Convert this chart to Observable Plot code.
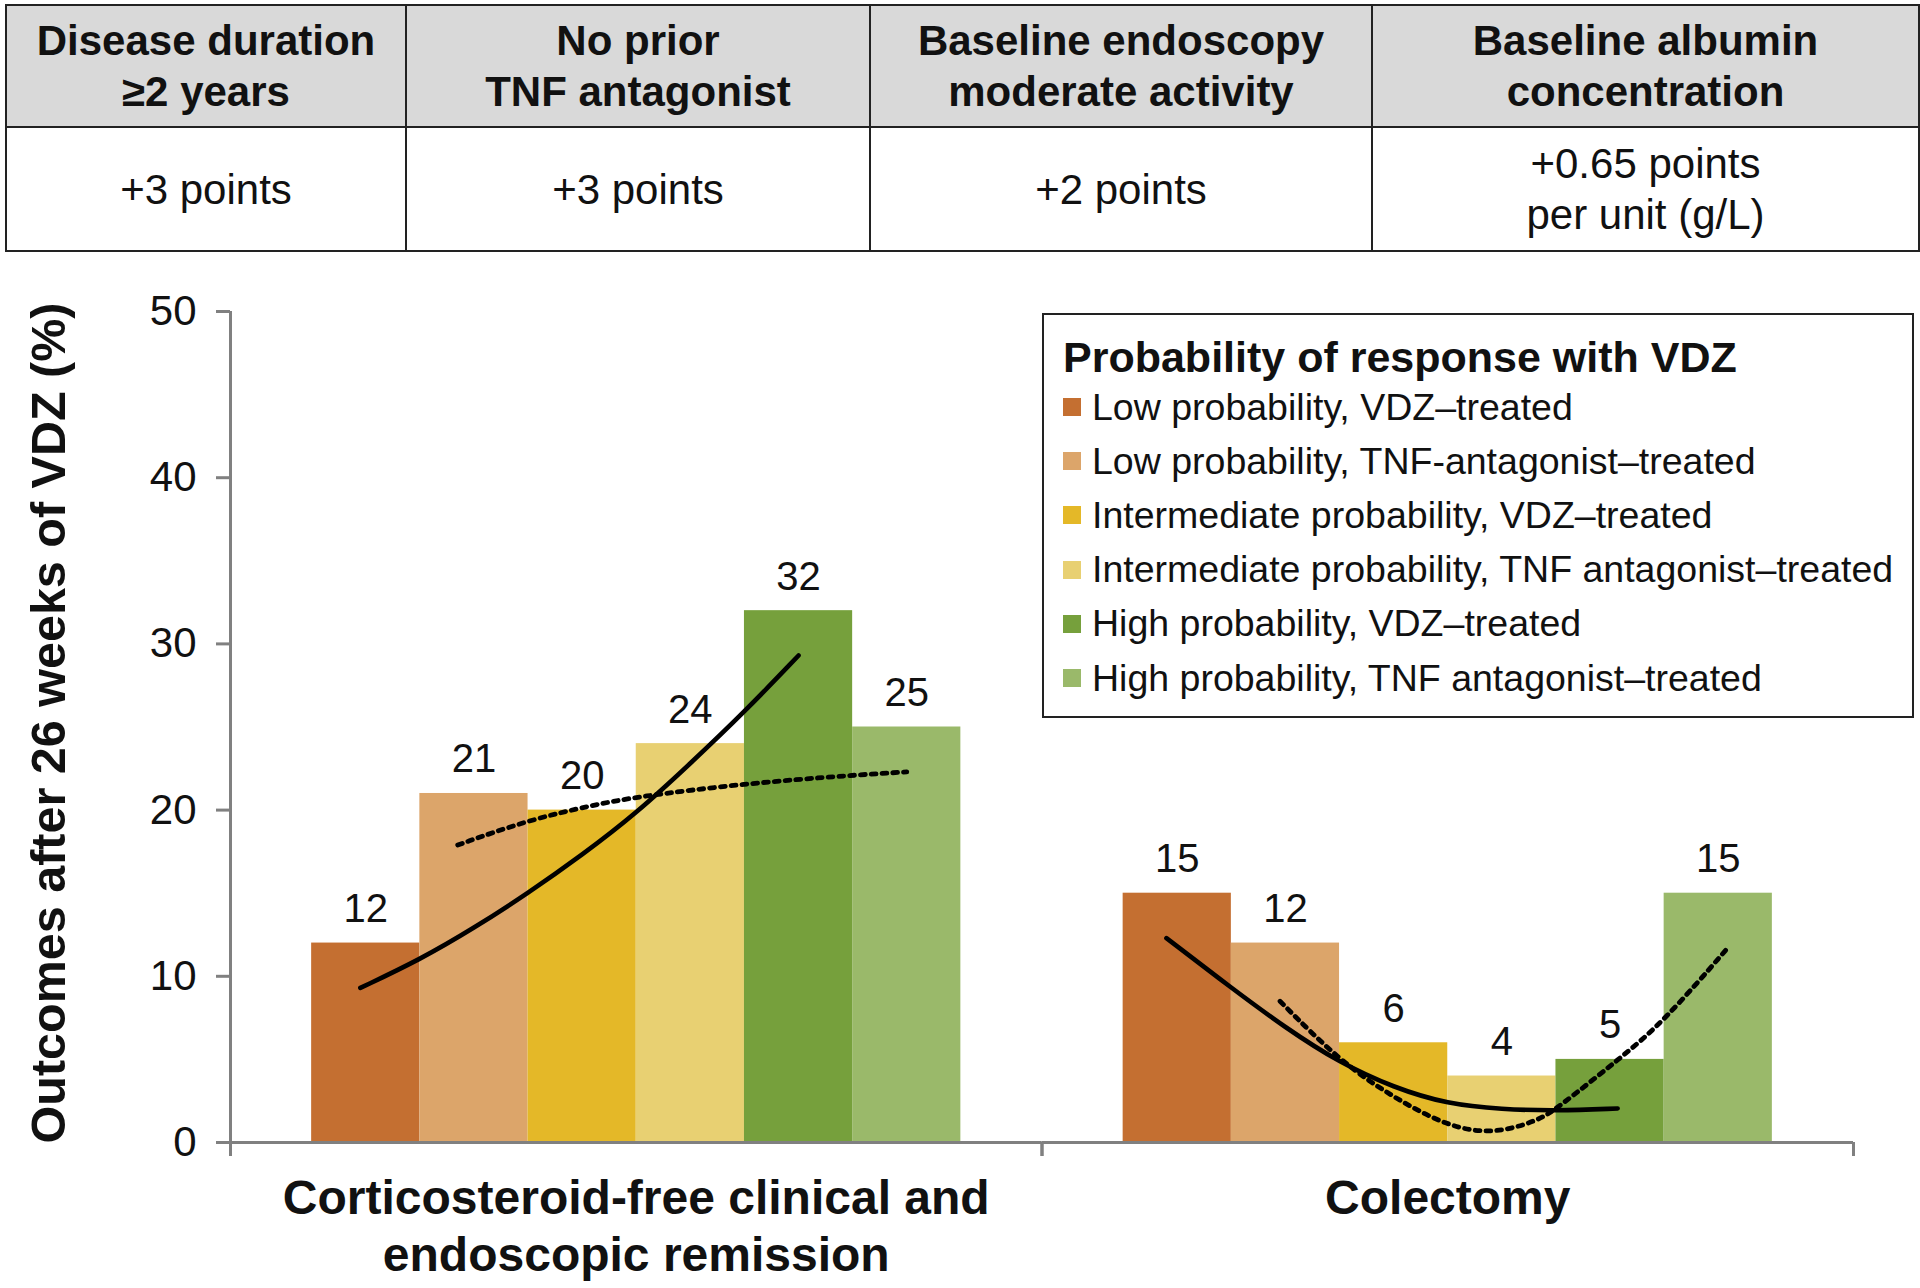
<!DOCTYPE html>
<html>
<head>
<meta charset="utf-8">
<script src="https://cdn.jsdelivr.net/npm/d3@7"></script>
<script src="https://cdn.jsdelivr.net/npm/@observablehq/plot@0.6"></script>
<style>
  html, body { margin: 0; padding: 0; background: #fff; }
  body { font-family: "Liberation Sans", Arial, Helvetica, sans-serif; color: #111; }
  #root { position: relative; width: 1920px; height: 1288px; overflow: hidden; background: #fff; }
  #points { position: absolute; left: 5px; top: 4px; border-collapse: collapse; table-layout: fixed; }
  #points th, #points td { border: 2px solid #222; text-align: center; vertical-align: middle; font-size: 42px; line-height: 51px; padding: 0; white-space: pre-line; color: #111; }
  #points th { background: #d9d9d9; font-weight: bold; height: 120px; }
  #points td { font-weight: normal; height: 122px; }
  #chart { position: absolute; left: 0; top: 255px; }
  #legend { position: absolute; left: 1042px; top: 313px; width: 868px; height: 401px; border: 2px solid #222; background: #fff; box-sizing: content-box; }
  #legend .title { position: absolute; left: 19px; top: 17px; height: 50px; line-height: 50px; font-size: 43px; font-weight: bold; white-space: nowrap; }
  #legend .item { position: absolute; left: 19px; height: 54px; display: flex; align-items: center; font-size: 37.5px; white-space: nowrap; }
  #legend .sw { width: 18px; height: 18px; margin-right: 11px; flex: none; }
</style>
</head>
<body>
<div id="root">
  <table id="points"><thead><tr id="hrow"></tr></thead><tbody><tr id="brow"></tr></tbody></table>
  <div id="chart"></div>
  <div id="legend"></div>
</div>
<script>
// ---------- data ----------
const tableHeaders = ["Disease duration\n≥2 years", "No prior\nTNF antagonist", "Baseline endoscopy\nmoderate activity", "Baseline albumin\nconcentration"];
const tableValues = ["+3 points", "+3 points", "+2 points", "+0.65 points\nper unit (g/L)"];

const groups = ["Corticosteroid-free clinical and\nendoscopic remission", "Colectomy"];
const series = [
  "Low probability, VDZ–treated",
  "Low probability, TNF-antagonist–treated",
  "Intermediate probability, VDZ–treated",
  "Intermediate probability, TNF antagonist–treated",
  "High probability, VDZ–treated",
  "High probability, TNF antagonist–treated"
];
const seriesColors = ["#C46F31", "#DCA56A", "#E4B828", "#E8D072", "#76A03C", "#9AB96A"];
const remissionValues = [12, 21, 20, 24, 32, 25];
const colectomyValues = [15, 12, 6, 4, 5, 15];
const yTicks = [0, 10, 20, 30, 40, 50];
const yTitle = "Outcomes after 26 weeks of VDZ (%)";
const legendTitle = "Probability of response with VDZ";

// Trend curves: position in bar widths from the group's first bar edge, value in %
const remissionVdzTrendPos = [0.45, 1.0, 1.5, 2.0, 2.5, 3.0, 3.5, 4.0, 4.5];
const remissionVdzTrendVal = [9.3, 11.0, 12.9, 15.0, 17.3, 19.8, 22.8, 25.9, 29.3];
const remissionTnfTrendPos = [1.35, 2.0, 2.6, 3.0, 4.0, 5.0, 5.5];
const remissionTnfTrendVal = [17.9, 19.4, 20.3, 20.8, 21.6, 22.1, 22.3];
const colectomyVdzTrendPos = [0.4, 1.0, 1.5, 2.0, 2.5, 3.0, 3.5, 4.0, 4.57];
const colectomyVdzTrendVal = [12.3, 9.3, 6.9, 4.8, 3.3, 2.3, 2.0, 1.9, 2.05];
const colectomyTnfTrendPos = [1.45, 2.0, 2.5, 3.0, 3.42, 3.83, 4.0, 4.6, 5.0, 5.6];
const colectomyTnfTrendVal = [8.5, 4.9, 2.7, 0.95, 0.5, 1.3, 2.0, 5.1, 7.3, 11.8];

// ---------- table ----------
const colWidths = [398, 462, 500, 545];
const hrow = document.getElementById("hrow");
const brow = document.getElementById("brow");
tableHeaders.forEach((h, i) => {
  const th = document.createElement("th");
  th.textContent = h;
  th.style.width = colWidths[i] + "px";
  hrow.appendChild(th);
});
tableValues.forEach(v => {
  const td = document.createElement("td");
  td.textContent = v;
  brow.appendChild(td);
});

// ---------- chart ----------
const groupValues = [remissionValues, colectomyValues];
const bars = groups.flatMap((g, gi) => series.map((s, si) => ({group: g, series: s, slot: si, value: groupValues[gi][si]})));
const trend = (group, pos, val) => pos.map((p, i) => ({group, pos: p, value: val[i]}));
const solidTrend = [
  ...trend(groups[0], remissionVdzTrendPos, remissionVdzTrendVal),
  ...trend(groups[1], colectomyVdzTrendPos, colectomyVdzTrendVal)
];
const dottedTrend = [
  ...trend(groups[0], remissionTnfTrendPos, remissionTnfTrendVal),
  ...trend(groups[1], colectomyTnfTrendPos, colectomyTnfTrendVal)
];

const groupPad = 0.75;
const xDomain = [-groupPad, series.length + groupPad];
const yDomain = [yTicks[0], yTicks[yTicks.length - 1]];
const axisGray = "#808080";
const ink = "#111";

const chart = Plot.plot({
  width: 1920,
  height: 1033,
  marginLeft: 230,
  marginRight: 67,
  marginTop: 56,
  marginBottom: 146,
  style: {fontFamily: "'Liberation Sans', Arial, Helvetica, sans-serif", background: "transparent", overflow: "visible"},
  fx: {domain: groups, padding: 0, round: false},
  x: {domain: xDomain},
  y: {domain: yDomain},
  color: {domain: series, range: seriesColors},
  marks: [
    Plot.rectY(bars, {fx: "group", x1: "slot", x2: d => d.slot + 1, y: "value", fill: "series"}),
    Plot.line(solidTrend, {fx: "group", x: "pos", y: "value", stroke: "#000", strokeWidth: 4.6, curve: "basis"}),
    Plot.line(dottedTrend, {fx: "group", x: "pos", y: "value", stroke: "#000", strokeWidth: 4.8, strokeDasharray: "4.8,6", curve: "basis"}),
    Plot.text(bars, {fx: "group", x: d => d.slot + 0.5, y: "value", text: d => String(d.value), dy: -21, lineAnchor: "bottom", fontSize: 40, fill: ink}),
    Plot.ruleY([yDomain[0]], {stroke: axisGray, strokeWidth: 3}),
    Plot.ruleX([groups[0]], {fx: d => d, x: () => xDomain[0], y1: () => yDomain[0], y2: () => yDomain[1], stroke: axisGray, strokeWidth: 3}),
    Plot.axisY({ticks: yTicks, tickFormat: d => String(d), tickSize: 14, tickPadding: 20, fontSize: 42, stroke: axisGray, strokeWidth: 3, fill: ink, label: null}),
    Plot.axisX({ticks: xDomain, tickSize: 14, stroke: axisGray, strokeWidth: 3, fill: "none", label: null}),
    Plot.axisFx({anchor: "bottom", tickSize: 0, tickPadding: 31, fontSize: 48, fontWeight: "bold", lineHeight: 1.19, fill: ink, label: null}),
    Plot.text([yTitle], {fx: () => groups[0], text: d => d, frameAnchor: "left", textAnchor: "middle", rotate: -90, dx: -181, dy: -4, fontSize: 48.5, fontWeight: "bold", fill: ink})
  ]
});
document.getElementById("chart").appendChild(chart);

// ---------- legend ----------
const legend = document.getElementById("legend");
const lt = document.createElement("div");
lt.className = "title";
lt.textContent = legendTitle;
legend.appendChild(lt);
series.forEach((s, i) => {
  const row = document.createElement("div");
  row.className = "item";
  row.style.top = (65 + i * 54.2) + "px";
  const sw = document.createElement("span");
  sw.className = "sw";
  sw.style.background = seriesColors[i];
  const tx = document.createElement("span");
  tx.textContent = s;
  row.appendChild(sw);
  row.appendChild(tx);
  legend.appendChild(row);
});
</script>
</body>
</html>
